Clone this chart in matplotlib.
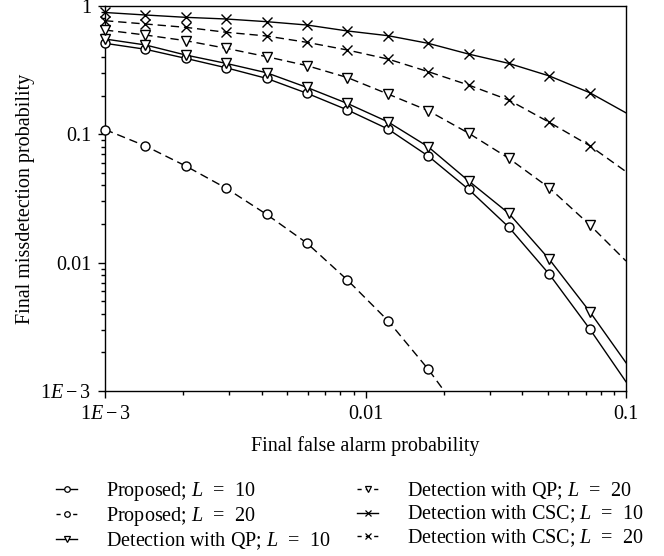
import matplotlib
matplotlib.use('Agg')
import matplotlib.pyplot as plt
from matplotlib.lines import Line2D
from matplotlib.ticker import FixedLocator, FixedFormatter, LogLocator, NullFormatter

plt.rcParams['font.family'] = ['Liberation Serif', 'DejaVu Serif']
plt.rcParams['mathtext.fontset'] = 'custom'
plt.rcParams['mathtext.rm'] = 'Liberation Serif'
plt.rcParams['mathtext.it'] = 'Liberation Serif:italic'
plt.rcParams['axes.unicode_minus'] = True

# ---- data ----
pfa = [0.001, 0.00143, 0.00204, 0.00292, 0.00417, 0.00596, 0.00852,
       0.0122, 0.0174, 0.0249, 0.0355, 0.0508, 0.0726, 0.1]

proposed_L10 = [0.512, 0.460, 0.391, 0.330, 0.273, 0.209, 0.155, 0.110,
                0.0678, 0.0372, 0.0189, 0.00811, 0.00304, 0.00118]
proposed_L20 = [0.109, 0.0811, 0.0567, 0.0380, 0.0238, 0.0142, 0.00733,
                0.00353, 0.00148, 0.00055]
qp_L10 = [0.553, 0.497, 0.415, 0.357, 0.302, 0.232, 0.174, 0.125, 0.080,
          0.0433, 0.0242, 0.0106, 0.00415, 0.00166]
qp_L20 = [0.650, 0.594, 0.537, 0.468, 0.403, 0.343, 0.277, 0.206, 0.153,
          0.102, 0.065, 0.0382, 0.0197, 0.0103]
csc_L10 = [0.89, 0.851, 0.816, 0.792, 0.755, 0.711, 0.639, 0.587, 0.512,
           0.422, 0.357, 0.285, 0.211, 0.147]
csc_L20 = [0.768, 0.724, 0.682, 0.624, 0.584, 0.521, 0.454, 0.386, 0.308,
           0.242, 0.185, 0.124, 0.0815, 0.0512]

labels = [r'Proposed; $L$  =  10', r'Proposed; $L$  =  20',
          r'Detection with QP; $L$  =  10', r'Detection with QP; $L$  =  20',
          r'Detection with CSC; $L$  =  10', r'Detection with CSC; $L$  =  20']
series = [proposed_L10, proposed_L20, qp_L10, qp_L20, csc_L10, csc_L20]
markers = ['o', 'o', 'v', 'v', 'x', 'x']
styles = ['-', '--', '-', '--', '-', '--']

xticks = [0.001, 0.01, 0.1]
xticklabels = [r'$1E-3$', '0.01', '0.1']
yticks = [0.001, 0.01, 0.1, 1]
yticklabels = [r'$1E-3$', '0.01', '0.1', '1']

xmin, xmax = 0.001, 0.1
ymin, ymax = 0.001, 1.0

FS = 14.5

fig = plt.figure(figsize=(6.64, 5.56), dpi=100)
ax = fig.add_axes([105/664, 1 - 391/556, (626-105)/664, (391-6)/556])

lw = 1.0
ms = 6.5
handles = []
for y, m, ls, lab in zip(series, markers, styles, labels):
    x = pfa[:len(y)]
    dash = dict(dashes=(6, 3.5)) if ls == '--' else {}
    ax.plot(x, y, color='black', lw=lw, linestyle=ls, **dash, zorder=2)
    # markers at the sampled points that lie inside the plotting range
    mx = [xi for xi, yi in zip(x[:13], y[:13]) if ymin <= yi <= ymax]
    my = [yi for yi in y[:13] if ymin <= yi <= ymax]
    ax.plot(mx, my, linestyle='none', marker=m, ms=ms if m != 'x' else ms + 0.5,
            mfc='white', mec='black', mew=1.0, clip_on=False, zorder=3)
    handles.append(Line2D([], [], color='black', lw=lw, linestyle=ls,
                          **(dict(dashes=(3, 3)) if ls == '--' else {}),
                          marker=m, ms=4 if m != 'x' else 4.5,
                          mfc='white', mec='black', mew=0.9))

ax.set_xscale('log')
ax.set_yscale('log')
ax.set_xlim(xmin, xmax)
ax.set_ylim(ymin, ymax)

ax.xaxis.set_major_locator(FixedLocator(xticks))
ax.xaxis.set_major_formatter(FixedFormatter(xticklabels))
ax.yaxis.set_major_locator(FixedLocator(yticks))
ax.yaxis.set_major_formatter(FixedFormatter(yticklabels))
ax.xaxis.set_minor_locator(LogLocator(base=10, subs=range(2, 10)))
ax.yaxis.set_minor_locator(LogLocator(base=10, subs=range(2, 10)))
ax.xaxis.set_minor_formatter(NullFormatter())
ax.yaxis.set_minor_formatter(NullFormatter())

ax.tick_params(which='both', direction='out', top=False, right=False,
               width=1.0, labelsize=FS, colors='black')
ax.tick_params(which='major', length=5, pad=5)
ax.tick_params(which='minor', length=3)
for s in ax.spines.values():
    s.set_linewidth(1.0)

ax.set_xlabel('Final false alarm probability', fontsize=FS, labelpad=9)
ax.set_ylabel('Final missdetection probability', fontsize=FS, labelpad=4)

fig.legend(handles, labels, ncol=2, loc='upper left',
           bbox_to_anchor=(46/664, 1 - 470/556), frameon=False,
           fontsize=FS, handlelength=1.05, handletextpad=1.45,
           columnspacing=1.3, labelspacing=0.1, borderpad=0)

fig.savefig('out.png', dpi=100)
